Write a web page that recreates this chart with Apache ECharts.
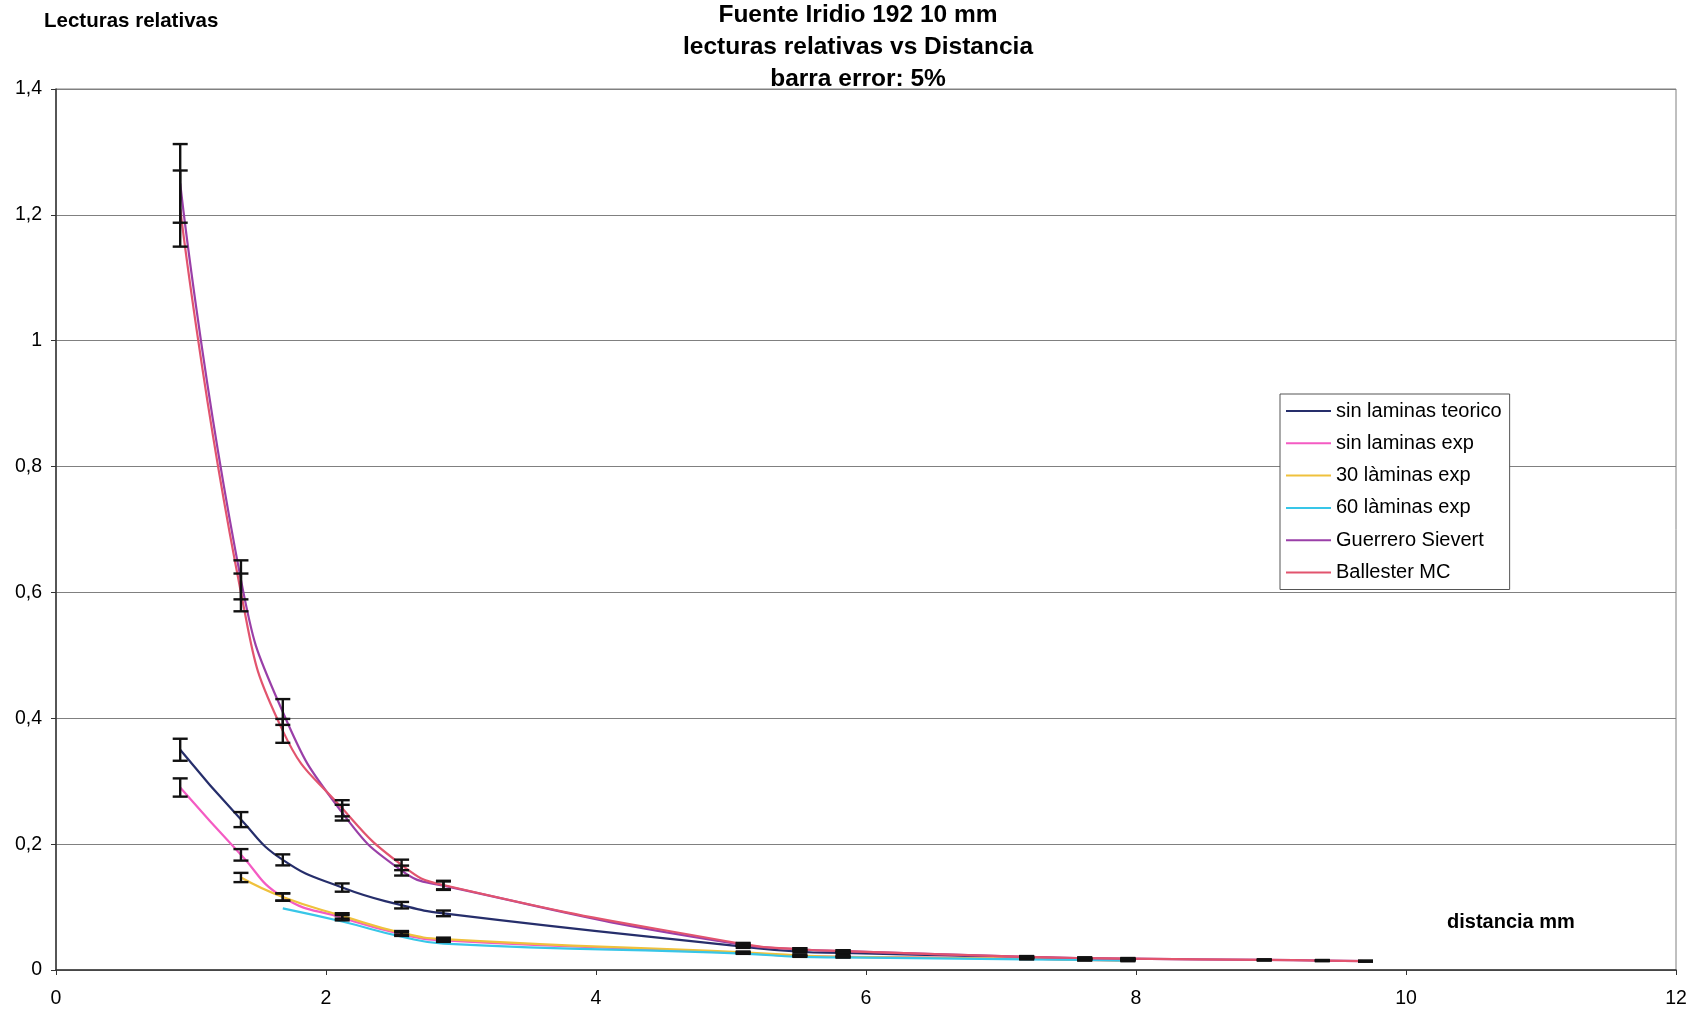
<!DOCTYPE html>
<html>
<head>
<meta charset="utf-8">
<title>Fuente Iridio 192 10 mm</title>
<script src="https://cdn.jsdelivr.net/npm/echarts@6/dist/echarts.min.js"></script>
<style>
  html, body { margin: 0; padding: 0; background: #fff; }
  #chart { width: 1699px; height: 1013px; }
</style>
</head>
<body>
<div id="chart"></div>
<script>
// Distances (mm) at which readings were taken / computed
const distances = [0.92, 1.37, 1.68, 2.12, 2.56, 2.87, 5.09, 5.51, 5.83, 7.19, 7.62, 7.94, 8.95, 9.38, 9.70];

// Relative readings per series (null = no reading at that distance)
const sinLaminasTeorico = [0.35, 0.239, 0.175, 0.131, 0.103, 0.090, 0.037, 0.029, 0.027, 0.020, 0.018, 0.017];
const sinLaminasExp     = [0.29, 0.183, 0.116, 0.083, 0.057, 0.047, 0.027, 0.022, 0.021, 0.018, 0.016, 0.015];
const laminas30Exp      = [null, 0.147, 0.116, 0.086, 0.059, 0.049, 0.028, 0.023, 0.021, 0.018, 0.016, 0.015];
const laminas60Exp      = [null, null, 0.098, 0.077, 0.053, 0.042, 0.026, 0.021, 0.020, 0.017, 0.016, 0.015];
const guerreroSievert   = [1.25, 0.62, 0.41, 0.25, 0.158, 0.134, 0.040, 0.033, 0.030, 0.021, 0.019, 0.018, 0.016, 0.015, 0.014];
const ballesterMC       = [1.21, 0.60, 0.38, 0.257, 0.167, 0.135, 0.041, 0.033, 0.030, 0.021, 0.019, 0.018, 0.016, 0.015, 0.014];

// Relative error bar half-width (barra error: 5%)
const errorFraction = 0.05;

// Axis ticks
const xTicks = [0, 2, 4, 6, 8, 10, 12];
const yTicks = [0, 0.2, 0.4, 0.6, 0.8, 1, 1.2, 1.4];

const seriesDefs = [
  { name: 'sin laminas teorico', values: sinLaminasTeorico, color: '#262E6B', bars: true },
  { name: 'sin laminas exp',     values: sinLaminasExp,     color: '#F45BC3', bars: true },
  { name: '30 làminas exp',      values: laminas30Exp,      color: '#EFC13C', bars: true },
  { name: '60 làminas exp',      values: laminas60Exp,      color: '#38C6E8', bars: false },
  { name: 'Guerrero Sievert',    values: guerreroSievert,   color: '#9A3FA8', bars: true },
  { name: 'Ballester MC',        values: ballesterMC,       color: '#E2546E', bars: true }
];

function toPoints(values) {
  const pts = [];
  values.forEach((v, i) => { if (v != null) pts.push([distances[i], v]); });
  return pts;
}

function toErrorData(values) {
  const out = [];
  values.forEach((v, i) => {
    if (v != null) out.push([distances[i], v * (1 - errorFraction), v * (1 + errorFraction)]);
  });
  return out;
}

// Vertical error bar with caps
function renderErrorBar(params, api) {
  const x = api.value(0);
  const lo = api.coord([x, api.value(1)]);
  const hi = api.coord([x, api.value(2)]);
  const half = 7.5;
  const style = { stroke: '#111111', lineWidth: 2.4 };
  return {
    type: 'group',
    children: [
      { type: 'line', shape: { x1: lo[0], y1: lo[1], x2: hi[0], y2: hi[1] }, style: style },
      { type: 'line', shape: { x1: lo[0] - half, y1: lo[1], x2: lo[0] + half, y2: lo[1] }, style: style },
      { type: 'line', shape: { x1: hi[0] - half, y1: hi[1], x2: hi[0] + half, y2: hi[1] }, style: style }
    ]
  };
}

const series = [];
seriesDefs.forEach((d, idx) => {
  series.push({
    name: d.name,
    type: 'line',
    data: toPoints(d.values),
    smooth: 0.5,
    symbol: 'none',
    lineStyle: { color: d.color, width: 2.2 },
    itemStyle: { color: d.color },
    z: 2 + idx * 0.1
  });
});
seriesDefs.forEach((d) => {
  if (!d.bars) return;
  series.push({
    type: 'custom',
    renderItem: renderErrorBar,
    data: toErrorData(d.values),
    encode: { x: 0, y: [1, 2] },
    silent: true,
    z: 5
  });
});

const fontFam = '"Liberation Sans", Arial, sans-serif';
const fmt = v => String(Math.round(v * 10) / 10).replace('.', ',');

const chart = echarts.init(document.getElementById('chart'), null, { renderer: 'canvas' });
chart.setOption({
  animation: false,
  backgroundColor: '#ffffff',
  title: {
    text: 'Fuente Iridio 192 10 mm\nlecturas relativas vs Distancia\nbarra error: 5%',
    left: 858,
    top: -1,
    padding: 0,
    textAlign: 'center',
    textStyle: { fontFamily: fontFam, fontSize: 24.5, fontWeight: 'bold', lineHeight: 32, color: '#000' }
  },
  graphic: [
    {
      type: 'text', left: 44, top: 11,
      style: { text: 'Lecturas relativas', fontFamily: fontFam, fontSize: 20.5, fontWeight: 'bold', fill: '#000' }
    },
    {
      type: 'text', left: 1447, top: 912,
      style: { text: 'distancia mm', fontFamily: fontFam, fontSize: 20, fontWeight: 'bold', fill: '#000' }
    }
  ],
  legend: {
    data: seriesDefs.map(d => d.name),
    orient: 'vertical',
    left: 1280,
    top: 394,
    padding: [6, 8, 6, 6],
    itemWidth: 45,
    itemHeight: 2,
    itemGap: 10.3,
    icon: 'rect',
    borderColor: '#555555',
    borderWidth: 1,
    backgroundColor: '#ffffff',
    textStyle: { fontFamily: fontFam, fontSize: 20, lineHeight: 22, color: '#000' }
  },
  grid: {
    left: 56, right: 23, top: 89, bottom: 43,
    show: true, borderColor: '#808080', borderWidth: 1, backgroundColor: 'transparent'
  },
  xAxis: {
    type: 'value',
    min: xTicks[0],
    max: xTicks[xTicks.length - 1],
    interval: xTicks[1] - xTicks[0],
    axisLine: { lineStyle: { color: '#333333', width: 1.5 } },
    axisTick: { show: true, inside: false, length: 5, lineStyle: { color: '#333333' } },
    splitLine: { show: false },
    axisLabel: { margin: 19, color: '#000', fontFamily: fontFam, fontSize: 19.5, formatter: fmt }
  },
  yAxis: {
    type: 'value',
    min: yTicks[0],
    max: yTicks[yTicks.length - 1],
    interval: 0.2,
    axisLine: { show: true, lineStyle: { color: '#333333', width: 1.5 } },
    axisTick: { show: true, inside: false, length: 5, lineStyle: { color: '#333333' } },
    splitLine: { show: true, lineStyle: { color: '#808080', width: 1 } },
    axisLabel: { margin: 14, color: '#000', fontFamily: fontFam, fontSize: 19.5, formatter: fmt }
  },
  series: series
});
</script>
</body>
</html>
